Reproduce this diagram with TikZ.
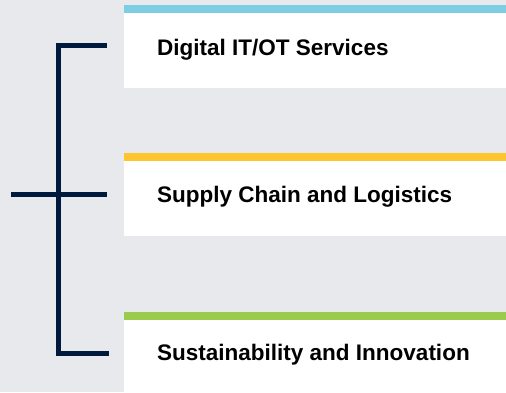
\documentclass[tikz,border=0pt]{standalone}
\usepackage{fontspec}
\setmainfont{Liberation Sans}
\usepackage{tikz}

\definecolor{pagegrey}{HTML}{E8E9ED}
\definecolor{navy}{HTML}{001A3D}
\definecolor{skyblue}{HTML}{7ECEE3}
\definecolor{sunyellow}{HTML}{FFC52F}
\definecolor{leafgreen}{HTML}{9BCB4A}

\begin{document}
\begin{tikzpicture}[x=1pt, y=-1pt]
        \tikzstyle{card}=[fill=white, draw=none]
        \tikzstyle{label}=[anchor=base west, inner sep=0pt, font=\fontsize{22.5}{24}\selectfont\bfseries]
        \tikzstyle{bracket}=[draw=navy, line width=5pt]

% background and the three cards with their coloured top bars
        \fill[pagegrey] (0,0) rectangle (506,392);
        \useasboundingbox (0,0) rectangle (506,392);

        \fill[card] (124,5) rectangle (506,88);
        \fill[skyblue] (124,5) rectangle (506,13);
        \fill[card] (124,153) rectangle (506,236);
        \fill[sunyellow] (124,153) rectangle (506,161);
        \fill[card] (124,312) rectangle (506,392);
        \fill[leafgreen] (124,312) rectangle (506,320);

        \node[label] (digital) at (157,55) {Digital IT/OT Services};
        \node[label] (supply) at (157,202) {Supply Chain and Logistics};
        \node[label] (sustain) at (157,360) {Sustainability and Innovation};

% the bracket
        \coordinate (top) at (58.5,45.5);
        \coordinate (mid) at (58.5,194.5);
        \coordinate (bot) at (58.5,353.5);
        \coordinate (in) at (11,194.5);
        \draw[bracket] ([xshift=-2.5pt]top) -- (top -| 107,0) ;
        \draw[bracket] ([yshift=-2.5pt]top) -- ([yshift=2.5pt]bot);
        \draw[bracket] ([xshift=-2.5pt]bot) -- (bot -| 109,0);
        \draw[bracket] (in) -- (mid -| 107,0);

    \end{tikzpicture}
\end{document}
